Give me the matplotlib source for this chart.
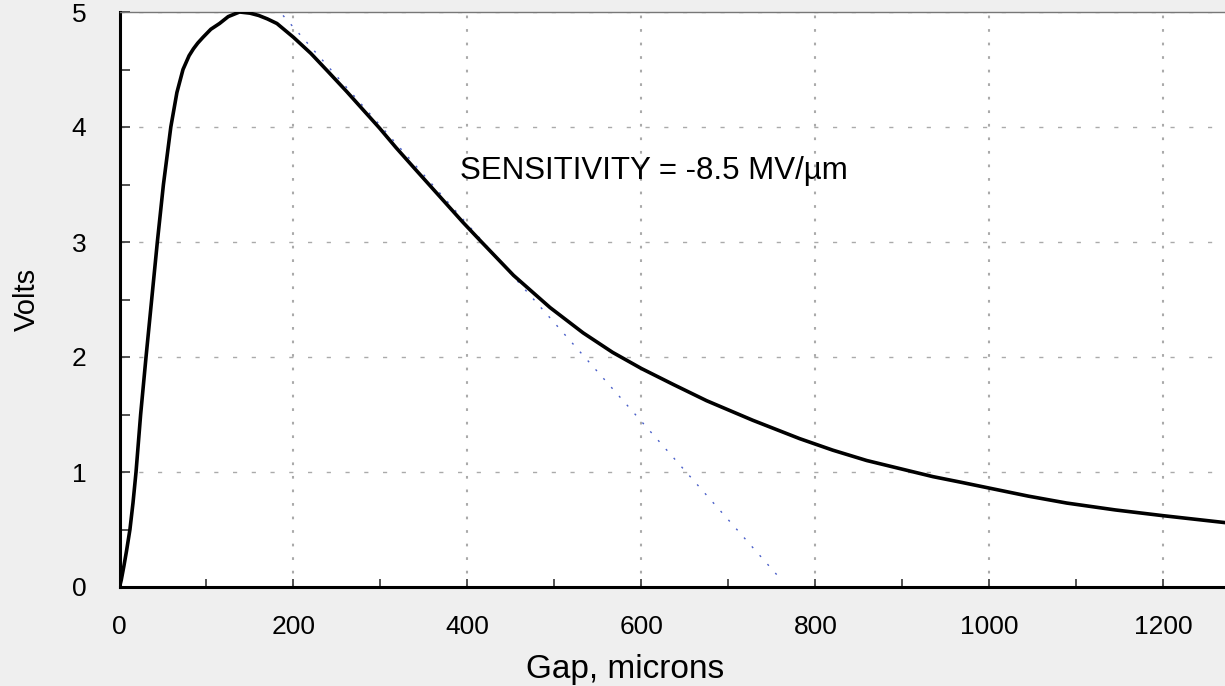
import matplotlib
matplotlib.use("Agg")
import matplotlib.pyplot as plt
from matplotlib.ticker import MultipleLocator

# ---------------------------------------------------------------- 데이터
gap_um = [0, 2, 5, 8, 12, 15.5, 19, 24.3, 30.5, 37, 43.5, 50.5, 59, 66, 73, 80,
          85, 90, 96, 105, 115, 125, 138, 150, 160, 170, 181, 200, 220, 240,
          261, 280, 299, 318, 338, 357, 376, 395, 415, 434, 453, 474, 495,
          514, 533, 567, 600, 637, 675, 728, 782, 820, 859, 897, 935, 968,
          1000, 1045, 1089, 1145, 1200, 1271]
volts = [0, 0.06, 0.18, 0.31, 0.5, 0.73, 1.0, 1.5, 2.0, 2.5, 3.0, 3.5, 4.0,
         4.3, 4.5, 4.62, 4.68, 4.73, 4.78, 4.85, 4.9, 4.96, 5.0, 4.99, 4.97,
         4.94, 4.9, 4.78, 4.64, 4.48, 4.31, 4.15, 3.99, 3.82, 3.65, 3.49,
         3.33, 3.17, 3.01, 2.86, 2.71, 2.57, 2.43, 2.32, 2.21, 2.04, 1.90,
         1.76, 1.62, 1.45, 1.29, 1.19, 1.10, 1.03, 0.96, 0.91, 0.86, 0.79,
         0.73, 0.67, 0.62, 0.56]

# 접선(감도) 직선의 두 끝점
tangent_x = [188, 760]
tangent_y = [4.97, 0.07]

label_text = "SENSITIVITY = -8.5 MV/\u00b5m"
x_ticks = [0, 200, 400, 600, 800, 1000, 1200]
y_ticks = [0, 1, 2, 3, 4, 5]

plt.rcParams["font.family"] = ["Liberation Sans", "DejaVu Sans"]

fig = plt.figure(figsize=(12.25, 6.86), dpi=100)
fig.patch.set_facecolor("#efefef")
ax = fig.add_axes([119.5 / 1225, 99 / 686, (1225 - 119.5) / 1225, 575 / 686])
ax.set_facecolor("white")

ax.set_xlim(0, 1271)
ax.set_ylim(0, 5)

# 격자: 가로는 대시, 세로는 점
for yv in y_ticks[1:]:
    ax.axhline(yv, color="#aaaaaa", lw=1.0, ls=(0, (3, 10.5)), zorder=1)
for xv in x_ticks[1:]:
    ax.axvline(xv, color="#aaaaaa", lw=1.5, ls=(0, (1.3, 5.2)), zorder=1)

ax.plot(tangent_x, tangent_y, color="#4a5fc8", lw=1.0, ls=(0, (1.5, 7)), zorder=2)
ax.plot(gap_um, volts, color="black", lw=2.6, zorder=3,
        solid_joinstyle="round", solid_capstyle="round")

ax.text(391, 3.55, label_text, fontsize=22.5, ha="left", va="baseline", zorder=4)

ax.set_xticks(x_ticks)
ax.set_yticks(y_ticks)
ax.xaxis.set_minor_locator(MultipleLocator(100))
ax.yaxis.set_minor_locator(MultipleLocator(0.5))
ax.tick_params(axis="both", which="both", direction="in", color="#444444",
               width=1.3, labelsize=19, labelcolor="black")
ax.tick_params(axis="x", which="both", length=6, pad=20)
ax.tick_params(axis="y", which="both", length=7, pad=24)
ax.tick_params(top=False, right=False)

for side in ("left", "bottom"):
    ax.spines[side].set_linewidth(2.2)
    ax.spines[side].set_color("black")
ax.spines["top"].set_color("#777777")
ax.spines["top"].set_linewidth(1.0)
ax.spines["right"].set_visible(False)

ax.set_xlabel("Gap, microns", fontsize=24)
ax.xaxis.set_label_coords(0.457, -0.143)
ax.xaxis.label.set_verticalalignment("center")
ax.set_ylabel("Volts", fontsize=21)
ax.yaxis.set_label_coords(-0.0837, 0.5)
ax.yaxis.label.set_verticalalignment("center")

fig.savefig("out.png", dpi=100, facecolor=fig.get_facecolor())
